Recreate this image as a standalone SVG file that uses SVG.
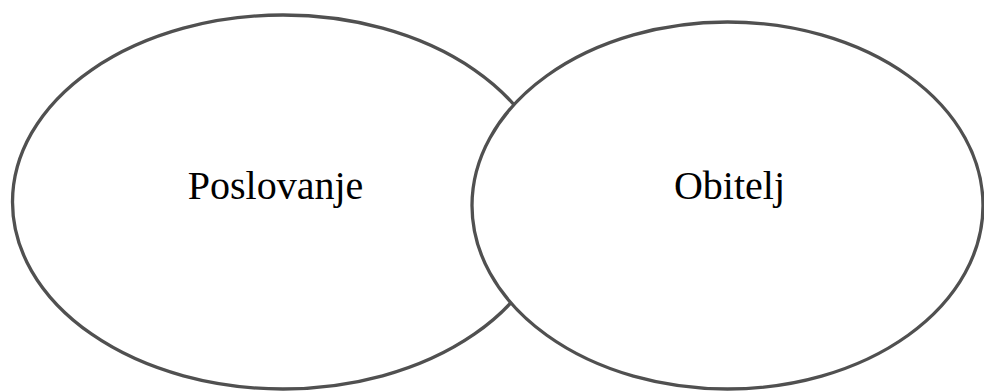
<svg xmlns="http://www.w3.org/2000/svg" width="984" height="392" viewBox="0 0 984 392">
  <style>
    .node ellipse { fill: #ffffff; stroke: #505050; stroke-width: 3.3; }
    .label { font-family: "Liberation Serif", "Times New Roman", serif; font-size: 40px; fill: #000000; text-anchor: middle; }
  </style>
  <rect width="984" height="392" fill="#ffffff"/>
  <g id="poslovanje" class="node">
    <ellipse cx="283" cy="202" rx="270.5" ry="187"/>
    <text class="label" x="275.5" y="199">Poslovanje</text>
  </g>
  <g id="obitelj" class="node">
    <ellipse cx="727.5" cy="205.5" rx="255.5" ry="183.5"/>
    <text class="label" x="729.5" y="199">Obitelj</text>
  </g>
  <g id="connectors"/>
</svg>
